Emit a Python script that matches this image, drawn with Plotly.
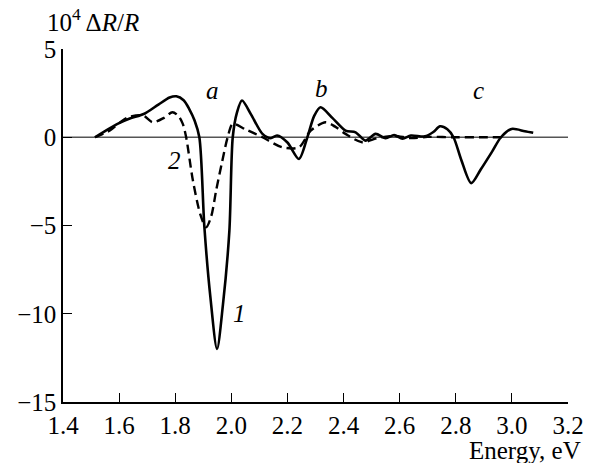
import plotly.graph_objects as go

# Photoreflectance spectra, 10^4 ΔR/R versus photon energy (eV)
energy_1 = [1.514, 1.56, 1.60, 1.638, 1.69, 1.74, 1.78, 1.804, 1.83, 1.85, 1.869, 1.886,
            1.904, 1.925, 1.949, 1.97, 1.993, 2.005, 2.02, 2.038, 2.07, 2.111, 2.14,
            2.163, 2.20, 2.241, 2.271, 2.295, 2.318, 2.36, 2.407, 2.443, 2.478, 2.514,
            2.55, 2.58, 2.61, 2.64, 2.69, 2.72, 2.744, 2.77, 2.792, 2.82, 2.855, 2.89,
            2.93, 2.961, 2.999, 3.046, 3.076]
dr_1 = [0.0, 0.45, 0.8, 1.06, 1.33, 1.85, 2.25, 2.32, 2.1, 1.6, 0.95, 0.0,
        -5.1, -9.0, -12.0, -9.5, -5.3, 0.0, 1.4, 2.08, 1.3, 0.19, -0.05,
        0.1, -0.3, -1.23, 0.0, 1.2, 1.7, 1.1, 0.38, 0.28, -0.19, 0.19,
        -0.05, 0.12, -0.08, 0.1, 0.05, 0.3, 0.62, 0.45, 0.0, -1.3, -2.6, -1.8,
        -0.8, 0.0, 0.47, 0.34, 0.25]

energy_2 = [1.514, 1.567, 1.60, 1.632, 1.685, 1.72, 1.76, 1.79, 1.812, 1.827, 1.839,
            1.863, 1.89, 1.91, 1.928, 1.946, 1.967, 1.987, 2.005, 2.05, 2.111, 2.182,
            2.241, 2.283, 2.336, 2.37, 2.407, 2.466, 2.52, 2.58, 2.64, 2.70, 2.80,
            2.90, 2.97]
dr_2 = [0.0, 0.38, 0.8, 1.13, 1.23, 0.85, 1.1, 1.42, 1.2, 0.76, 0.0,
        -2.45, -4.4, -5.1, -4.5, -3.0, -1.4, 0.0, 0.76, 0.45, 0.0, -0.57,
        -0.57, 0.38, 0.85, 0.6, 0.19, -0.28, -0.05, 0.08, -0.05, 0.02, 0.0,
        0.0, 0.0]

x_ticks = [1.4, 1.6, 1.8, 2.0, 2.2, 2.4, 2.6, 2.8, 3.0, 3.2]
y_ticks = [-15, -10, -5, 0, 5]

FONT = "Liberation Serif"
SIZE = 25

fig = go.Figure()
fig.add_trace(go.Scatter(x=energy_1, y=dr_1, mode="lines",
                         line=dict(color="black", width=2.6, shape="spline", smoothing=0.8)))
fig.add_trace(go.Scatter(x=energy_2, y=dr_2, mode="lines",
                         line=dict(color="black", width=2.4, dash="9px,5px",
                                   shape="spline", smoothing=0.8)))

# zero line across the full energy range
fig.add_shape(type="line", x0=1.4, x1=3.2, y0=0, y1=0, xref="x", yref="y",
              line=dict(color="#555555", width=1.5), layer="below")

tick_font = dict(family=FONT, size=SIZE, color="black")
fig.update_xaxes(range=[1.4, 3.2], tickvals=x_ticks,
                 ticktext=[f"{v:.1f}" for v in x_ticks],
                 ticks="inside", ticklen=9, tickwidth=1.2, tickcolor="black",
                 showline=True, linecolor="black", linewidth=1.5,
                 showgrid=False, zeroline=False, tickfont=tick_font)
fig.update_yaxes(range=[-15, 5], tickvals=y_ticks,
                 ticks="inside", ticklen=9, tickwidth=1.2, tickcolor="black",
                 showline=True, linecolor="black", linewidth=1.5,
                 showgrid=False, zeroline=False, tickfont=tick_font)

ann_font = dict(family=FONT, size=SIZE, color="black")
labels = [
    (1.933, 2.65, "<i>a</i>"),
    (2.32, 2.76, "<i>b</i>"),
    (2.88, 2.65, "<i>c</i>"),
    (1.798, -1.32, "<i>2</i>"),
    (2.028, -9.99, "<i>1</i>"),
]
for x, y, t in labels:
    fig.add_annotation(x=x, y=y, text=t, showarrow=False, font=ann_font,
                       xref="x", yref="y")

fig.add_annotation(x=-0.036, y=1.082, xref="paper", yref="paper",
                   text="10<sup>4</sup> Δ<i>R</i>/<i>R</i>", showarrow=False,
                   xanchor="left", yanchor="middle", font=ann_font)
fig.add_annotation(x=1.03, y=-0.18, xref="paper", yref="paper",
                   text="Energy, eV", showarrow=False,
                   xanchor="right", yanchor="bottom", font=ann_font)

fig.update_layout(width=596, height=463,
                  margin=dict(l=63, r=26, t=49, b=61),
                  plot_bgcolor="white", paper_bgcolor="white",
                  showlegend=False)

fig.write_html("out.html")
